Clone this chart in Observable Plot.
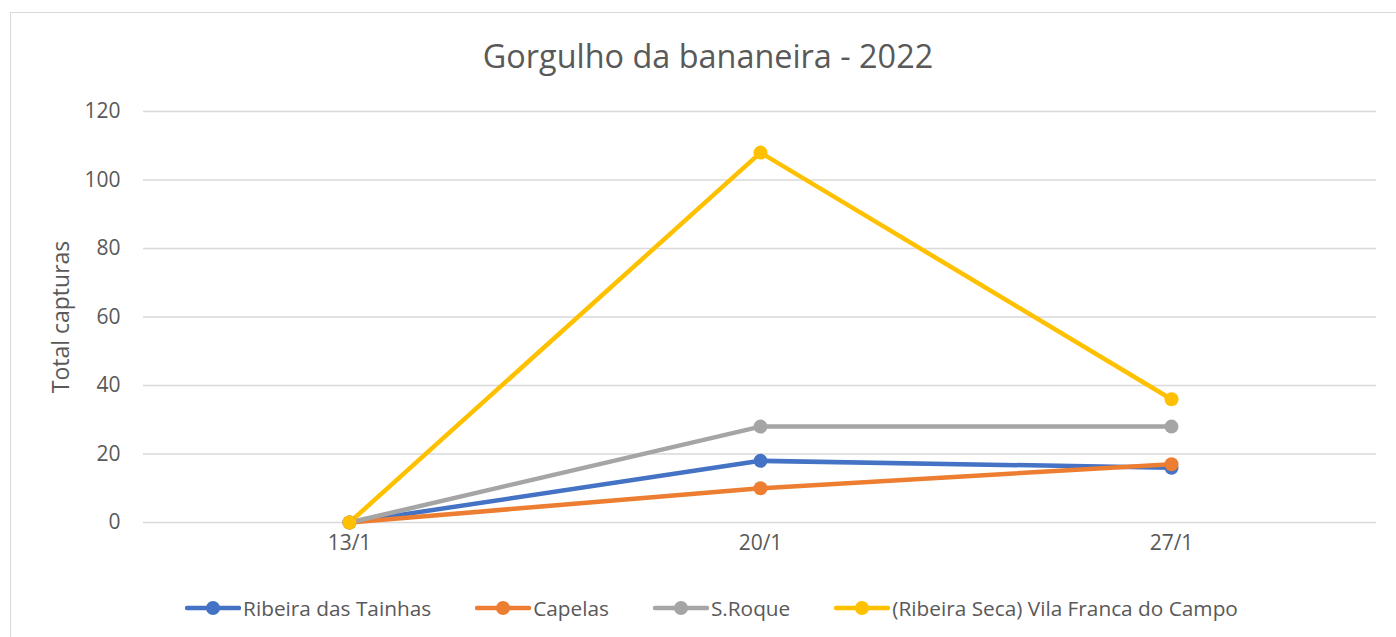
<!DOCTYPE html>
<html><head><meta charset="utf-8">
<script src="https://cdn.jsdelivr.net/npm/d3@7"></script>
<script src="https://cdn.jsdelivr.net/npm/@observablehq/plot@0.6"></script>
<style>
body{margin:0;background:#fff;font-family:"Open Sans",sans-serif;}
#wrap{position:relative;width:1396px;height:637px;overflow:hidden;}
#frame{position:absolute;left:10px;top:12px;width:1400px;height:640px;border:1px solid #d9d9d9;box-sizing:border-box;}
#title{position:absolute;left:0;width:1416px;top:33px;text-align:center;font-size:32.4px;color:#595959;}
#chart{position:absolute;left:0;top:0;}
#legend{position:absolute;top:594px;left:0;width:1423px;display:flex;justify-content:center;gap:0;font-size:20.8px;color:#595959;}
.item{display:flex;align-items:center;margin:0 22px;}
.item svg{margin-right:2px;}
</style></head>
<body><div id="wrap"><div id="frame"></div><div id="title">Gorgulho da bananeira - 2022</div><div id="chart"></div><div id="legend"></div></div>
<script>
const dates = ["13/1","20/1","27/1"];
const seriesNames = ["Ribeira das Tainhas","Capelas","S.Roque","(Ribeira Seca) Vila Franca do Campo"];
const ribeiraTainhas = [0,18,16];
const capelas = [0,10,17];
const sRoque = [0,28,28];
const vilaFranca = [0,108,36];
const yTicks = [0,20,40,60,80,100,120];
const colors = ["#4472C4","#ED7D31","#A5A5A5","#FFC000"];

const allValues = [ribeiraTainhas, capelas, sRoque, vilaFranca];
const data = [];
seriesNames.forEach((s,i)=>dates.forEach((d,j)=>data.push({series:s,date:d,value:allValues[i][j]})));

const color = {domain: seriesNames, range: colors};
const plot = Plot.plot({
  width:1396, height:560,
  marginLeft:143, marginRight:20, marginTop:111, marginBottom:38,
  style:{fontFamily:"Open Sans, sans-serif", fontSize:"21px", color:"#595959", background:"transparent"},
  x:{type:"point", domain:dates, padding:0.5, label:null},
  y:{domain:[0,120], ticks:yTicks, label:null},
  color,
  marks:[
    Plot.ruleY(yTicks, {stroke:"#d9d9d9", strokeWidth:1.3}),
    Plot.axisY({ticks:yTicks, tickSize:0, tickPadding:23, label:null, fill:"#595959", fontSize:21}),
    Plot.axisX({tickSize:0, tickPadding:13, label:null, fill:"#595959", fontSize:21}),
    Plot.text(["Total capturas"], {frameAnchor:"left", textAnchor:"middle", dx:-82, rotate:-90, fontSize:23, fill:"#595959"}),
    Plot.line(data, {x:"date", y:"value", z:"series", stroke:"series", strokeWidth:4.5, strokeLinejoin:"round", strokeLinecap:"round"}),
    Plot.dot(data, {x:"date", y:"value", fill:"series", r:7})
  ]
});
document.getElementById("chart").appendChild(plot);

const lg = document.getElementById("legend");
seriesNames.forEach((s,i)=>{
  const it = document.createElement("div"); it.className="item";
  it.innerHTML = `<svg width="56" height="20"><line x1="2" y1="10" x2="54" y2="10" stroke="${colors[i]}" stroke-width="4.5" stroke-linecap="round"/><circle cx="28" cy="10" r="7" fill="${colors[i]}"/></svg><span>${s}</span>`;
  lg.appendChild(it);
});
</script></body></html>
